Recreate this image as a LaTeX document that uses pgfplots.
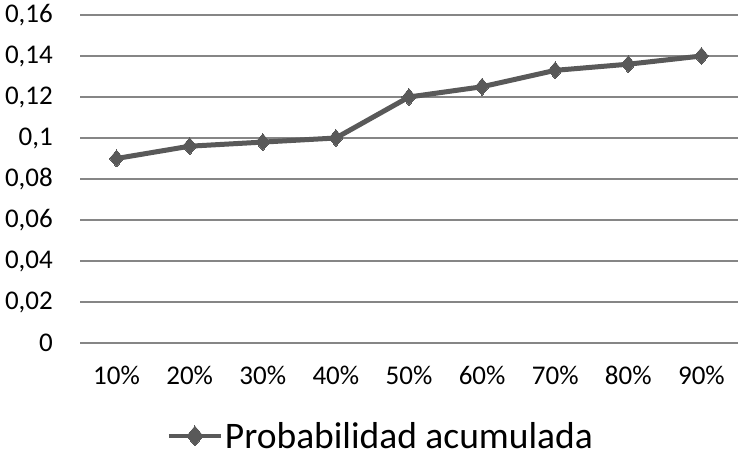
\documentclass[border=0pt]{standalone}
\usepackage{fontspec}
\setmainfont{Carlito}
\usepackage{pgfplots}
\pgfplotsset{compat=1.18}

\definecolor{serie}{RGB}{89,89,89}
\definecolor{rejilla}{RGB}{134,134,134}

\begin{document}
\begin{tikzpicture}
\begin{axis}[
  at={(80bp,113bp)}, anchor=south west,
  scale only axis,
  width=658bp, height=328bp,
  xmin=-0.5, xmax=8.5,
  ymin=0, ymax=0.16,
  xtick={0,...,8},
  xticklabels={10\%,20\%,30\%,40\%,50\%,60\%,70\%,80\%,90\%},
  ytick={0,0.02,0.04,0.06,0.08,0.1,0.12,0.14,0.16},
  /pgf/number format/assume math mode=true,
  /pgf/number format/use comma,
  /pgf/number format/fixed,
  /pgf/number format/precision=2,
  ymajorgrids,
  major grid style={draw=rejilla, line width=1.5bp},
  axis line style={draw=none},
  tick style={draw=none},
  xticklabel style={font=\fontsize{27bp}{32bp}\selectfont, anchor=north, inner sep=0pt, yshift=-23bp},
  yticklabel style={font=\fontsize{27bp}{32bp}\selectfont, anchor=east, inner sep=0pt, xshift=-27bp},
  legend style={
    at={(0.4574,-0.2835)}, anchor=center,
    draw=none, fill=none,
    font=\fontsize{37.5bp}{40bp}\selectfont,
    inner sep=0pt,
    /tikz/every even column/.append style={column sep=0pt},
  },
  legend cell align=left,
  legend image code/.code={
    \draw[#1, line width=4bp, mark size=10bp, mark repeat=2, mark phase=2]
      plot coordinates {(0bp,0bp) (26bp,0bp) (52bp,0bp)};
  },
]
\addplot[color=serie, line width=5bp, mark=diamond*, mark size=8.5bp,
  mark options={fill=serie, draw=serie, line width=0pt, xscale=1.1}]
  coordinates {
    (0,0.090) (1,0.096) (2,0.098) (3,0.100) (4,0.120)
    (5,0.125) (6,0.133) (7,0.136) (8,0.140)
  };
\addlegendentry{Probabilidad acumulada}
\end{axis}
\pgfresetboundingbox
\path (0,0) rectangle (739bp,456bp);
\end{tikzpicture}
\end{document}
